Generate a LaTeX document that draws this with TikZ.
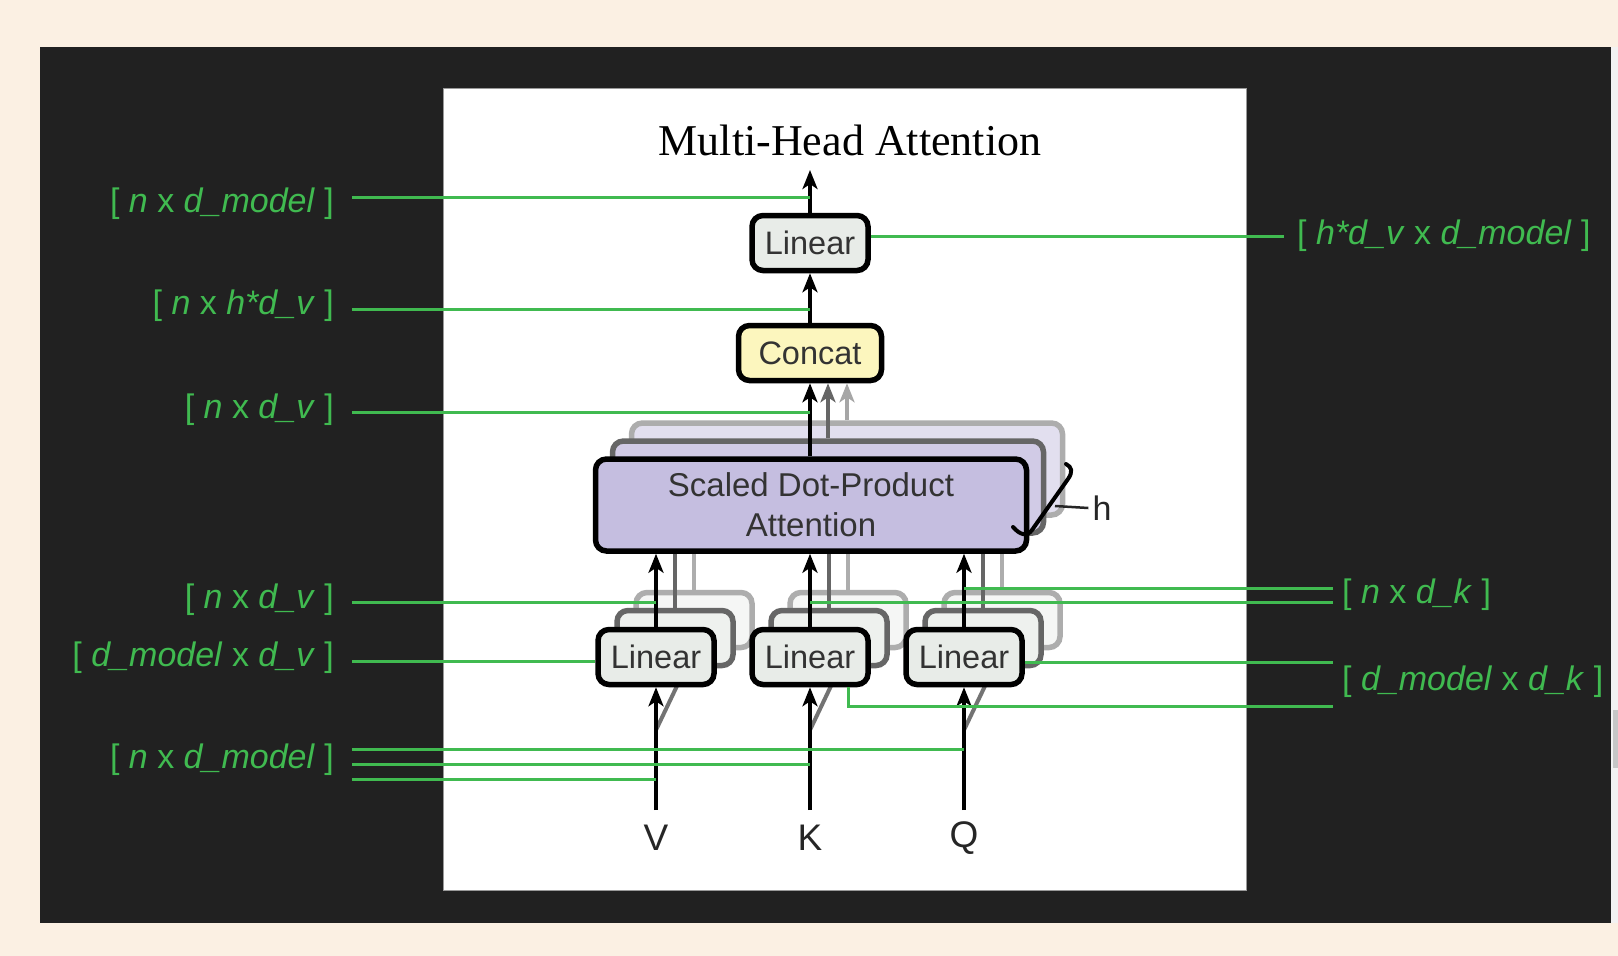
\documentclass[tikz,border=0pt]{standalone}
\usepackage{fontspec}
\setmainfont{Liberation Sans}
\newfontfamily\tms{Liberation Serif}
\usetikzlibrary{arrows.meta}
\definecolor{cream}{RGB}{251,240,227}
\definecolor{darkbg}{RGB}{33,33,33}
\definecolor{grn}{RGB}{64,186,80}
\definecolor{lav}{RGB}{197,190,224}
\definecolor{linfill}{RGB}{232,236,232}
\definecolor{catfill}{RGB}{252,246,190}
\definecolor{panelgrey}{RGB}{242,242,242}
\begin{document}
\begin{tikzpicture}[x=1pt,y=-1pt,
  box/.style={draw=black, line width=5.5pt, rounded corners=11pt, inner sep=0pt,
    font=\fontsize{32.5}{40}\selectfont, text=black!80},
  linbox/.style={box, fill=linfill, minimum width=116pt, minimum height=55pt},
  catbox/.style={box, fill=catfill, minimum width=143pt, minimum height=55pt},
  attbox/.style={box, fill=lav, minimum width=431pt, minimum height=92pt, align=center,
    font=\fontsize{33}{40}\selectfont},
  copyA/.style={draw=black!60, fill=linfill!75!white},
  copyB/.style={draw=black!32, fill=linfill!45!white},
  attA/.style={draw=black!60, fill=lav!80!white},
  attB/.style={draw=black!32, fill=lav!50!white},
  arr/.style={line width=4pt, -{Stealth[length=19pt,width=15pt,inset=5pt]}},
  greyarrA/.style={arr, draw=black!60, fill=black!60},
  greyarrB/.style={arr, draw=black!35, fill=black!35},
  greyln/.style={line width=4pt},
  gline/.style={draw=grn, line width=3pt},
  lbl/.style={text=grn, font=\fontsize{34}{40}\selectfont, inner sep=0pt},
  inlbl/.style={font=\fontsize{37}{40}\selectfont, text=black!85, inner sep=0pt}
]
\useasboundingbox (0,0) rectangle (1618,956);
\fill[cream] (0,0) rectangle (1618,956);
\fill[darkbg] (40,47) rectangle (1611,923);
\fill[panelgrey] (1611,47) rectangle (1618,923);
\fill[black!22] (1613,710) rectangle (1618,768);
\filldraw[fill=white, draw=black!40, line width=1pt] (443,88) rectangle (1246,890);

% title
\node[font=\tms\fontsize{44}{50}\selectfont, inner sep=0pt] (title) at (850,140) {Multi-Head Attention};

% ---- stacked copies (back to front) ----
\node[attbox, attB] (att2) at (847,469) {};
\node[attbox, attA] (att1) at (828,487) {};

\node[linbox, copyB] (linV2) at (694,620) {};
\node[linbox, copyB] (linK2) at (848,620) {};
\node[linbox, copyB] (linQ2) at (1002,620) {};
\draw[greyln, black!32] (linV2.north) -- (linV2.north |- att2.south);
\draw[greyln, black!32] (linK2.north) -- (linK2.north |- att2.south);
\draw[greyln, black!32] (linQ2.north) -- (linQ2.north |- att2.south);

\node[linbox, copyA] (linV1) at (675,638) {};
\node[linbox, copyA] (linK1) at (829,638) {};
\node[linbox, copyA] (linQ1) at (983,638) {};
\draw[greyln, black!60] (linV1.north) -- (linV1.north |- att1.south);
\draw[greyln, black!60] (linK1.north) -- (linK1.north |- att1.south);
\draw[greyln, black!60] (linQ1.north) -- (linQ1.north |- att1.south);

% input branch points and diagonal branches to copies (partly hidden)
\coordinate (vin) at (656,810);
\coordinate (kin) at (810,810);
\coordinate (qin) at (964,810);
\coordinate (vbr) at (656,730);
\coordinate (kbr) at (810,730);
\coordinate (qbr) at (964,730);
\draw[line width=4pt, black!55] (vbr) -- (linV2.south);
\draw[line width=4pt, black!55] (kbr) -- (linK2.south);
\draw[line width=4pt, black!55] (qbr) -- (linQ2.south);

% ---- main boxes ----
\node[linbox] (linTop) at (810,243) {Linear};
\node[catbox] (concat) at (810,353) {Concat};
\node[attbox] (att) at (811,505) {Scaled Dot-Product\\Attention};
\node[linbox] (linV) at (656,657) {Linear};
\node[linbox] (linK) at (810,657) {Linear};
\node[linbox] (linQ) at (964,657) {Linear};

% inputs
\node[inlbl] (V) at (656,838) {V};
\node[inlbl] (K) at (810,838) {K};
\node[inlbl] (Q) at (964,838) {Q};

\draw[arr] (vin) -- (linV.south);
\draw[arr] (kin) -- (linK.south);
\draw[arr] (qin) -- (linQ.south);

\draw[arr] (linV.north) -- (linV.north |- att.south);
\draw[arr] (linK.north) -- (linK.north |- att.south);
\draw[arr] (linQ.north) -- (linQ.north |- att.south);

\draw[arr] (att.north -| concat.south) -- (concat.south);
\draw[greyarrA] (att1.north -| 828,0) -- (828,0 |- concat.south);
\draw[greyarrB] (att2.north -| 847,0) -- (847,0 |- concat.south);

\draw[arr] (concat.north) -- (linTop.south);
\coordinate (outtop) at (810,170);
\draw[arr] (linTop.north) -- (outtop);

% h marker
\node[font=\fontsize{34}{40}\selectfont, text=black!85, inner sep=4pt] (hlab) at (1102,508) {h};
\coordinate (hs) at (1055,506);
\draw[line width=4pt, line cap=round] (1013,527) .. controls (1020,535) and (1027,537) .. (1032,530) -- (1068,479) .. controls (1073,472) and (1072,467) .. (1066,464);
\draw[line width=2.5pt, black!85] (hs) -- (hlab.west);

% ---- labels ----
\node[lbl, anchor=east] (L1) at (334,204) {[ \textit{n} x \textit{d\_model} ]};
\node[lbl, anchor=east] (L2) at (334,306) {[ \textit{n} x \textit{h*d\_v} ]};
\node[lbl, anchor=east] (L3) at (334,410) {[ \textit{n} x \textit{d\_v} ]};
\node[lbl, anchor=east] (L4) at (334,600) {[ \textit{n} x \textit{d\_v} ]};
\node[lbl, anchor=east] (L5) at (334,658) {[ \textit{d\_model} x \textit{d\_v} ]};
\node[lbl, anchor=east] (L6) at (334,760) {[ \textit{n} x \textit{d\_model} ]};
\node[lbl, anchor=west] (R1) at (1297,236) {[ \textit{h*d\_v} x \textit{d\_model} ]};
\node[lbl, anchor=west] (R2) at (1342,595) {[ \textit{n} x \textit{d\_k} ]};
\node[lbl, anchor=west] (R3) at (1342,682) {[ \textit{d\_model} x \textit{d\_k} ]};

% ---- green leader lines ----
\coordinate (g1) at (352,197);
\coordinate (g2) at (352,309);
\coordinate (g3) at (352,412);
\coordinate (g4) at (352,602);
\coordinate (g5) at (352,661);
\coordinate (g6a) at (352,749);
\coordinate (g6b) at (352,764);
\coordinate (g6c) at (352,779);
\coordinate (r1) at (1284,236);
\coordinate (r2a) at (1333,588);
\coordinate (r2b) at (1333,602);
\coordinate (r3a) at (1333,662);
\coordinate (r3b) at (1333,706);

\draw[gline] (g1) -- (g1 -| linTop.north);
\draw[gline] (g2) -- (g2 -| linTop.south);
\draw[gline] (g3) -- (g3 -| concat.south);
\draw[gline] (g4) -- (g4 -| linV.north);
\draw[gline] (g5) -- (g5 -| linV.west);
\draw[gline] (g6a) -- (g6a -| linQ.south);
\draw[gline] (g6b) -- (g6b -| linK.south);
\draw[gline] (g6c) -- (g6c -| linV.south);
\draw[gline] (r1 -| linTop.east) -- (r1);
\draw[gline] (r2a -| linQ.north) -- (r2a);
\draw[gline] (r2b -| linK.north) -- (r2b);
\draw[gline] (r3a -| linQ.east) -- (r3a);
\draw[gline] ([xshift=38pt]linK.south) |- (r3b);
\end{tikzpicture}
\end{document}
